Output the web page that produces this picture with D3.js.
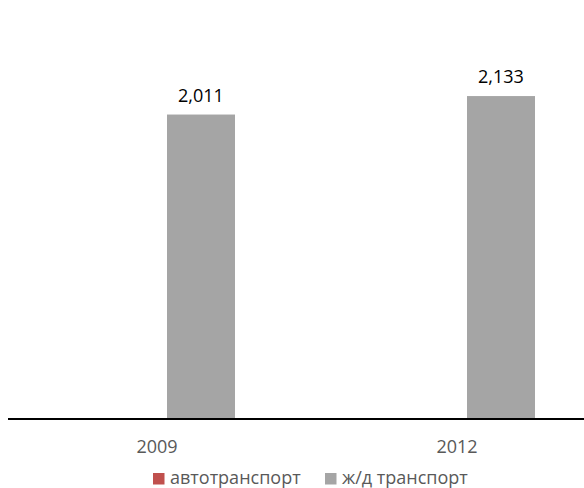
<!DOCTYPE html>
<html>
<head>
<meta charset="utf-8">
<script src="https://cdn.jsdelivr.net/npm/d3@7"></script>
<style>
  html, body { margin: 0; padding: 0; background: #fff; }
  svg { display: block; font-family: "Open Sans", sans-serif; }
</style>
</head>
<body>
<div id="chart"></div>
<script>
const categories = ["2009", "2012"];
const seriesNames = ["автотранспорт", "ж/д транспорт"];
const autoValues = [0, 0];
const railValues = [2011, 2133];
const seriesColors = ["#C0504D", "#A5A5A5"];

const W = 584, H = 488;
const svg = d3.select("#chart").append("svg").attr("width", W).attr("height", H);

const x = d3.scaleBand().domain(categories).range([7, 607]).paddingInner(0).paddingOuter(0);
const y = d3.scaleLinear().domain([0, 2500]).range([419, 40.5]);

// inner positions for two series: bar width 68, gap 20
const inner = d3.scaleBand().domain(seriesNames).range([-78, 78]).paddingInner(20 / 88).paddingOuter(0);

const seriesData = [autoValues, railValues];
seriesData.forEach((vals, si) => {
  const g = svg.append("g");
  g.selectAll("rect").data(vals).join("rect")
    .attr("x", (d, i) => x(categories[i]) + x.bandwidth() / 2 + inner(seriesNames[si]))
    .attr("width", inner.bandwidth())
    .attr("y", d => y(d))
    .attr("height", d => y(0) - y(d))
    .attr("fill", seriesColors[si]);
  g.selectAll("text").data(vals.map((v, i) => ({v, i})).filter(o => o.v > 0)).join("text")
    .attr("x", o => x(categories[o.i]) + x.bandwidth() / 2 + inner(seriesNames[si]) + inner.bandwidth() / 2)
    .attr("y", o => y(o.v) - 13)
    .attr("text-anchor", "middle")
    .attr("font-size", 18)
    .attr("fill", "#000")
    .text(o => d3.format(",")(o.v));
});

// axis
const axis = svg.append("g").attr("transform", "translate(0,419)")
  .call(d3.axisBottom(x).tickSize(0).tickPadding(0));
axis.select(".domain").attr("stroke", "#000").attr("stroke-width", 2).attr("d", "M8,0H607");
axis.selectAll(".tick text")
  .attr("font-family", "Open Sans, sans-serif")
  .attr("font-size", 18)
  .attr("fill", "#595959")
  .attr("dy", null)
  .attr("y", 34);

// legend
const legendX = [153, 325];
const leg = svg.append("g");
seriesNames.forEach((name, i) => {
  leg.append("rect").attr("x", legendX[i]).attr("y", 473).attr("width", 11.5).attr("height", 11.5).attr("fill", seriesColors[i]);
  leg.append("text").attr("x", legendX[i] + 17).attr("y", 484)
    .attr("font-size", 18).attr("fill", "#595959").text(name);
});
</script>
</body>
</html>
